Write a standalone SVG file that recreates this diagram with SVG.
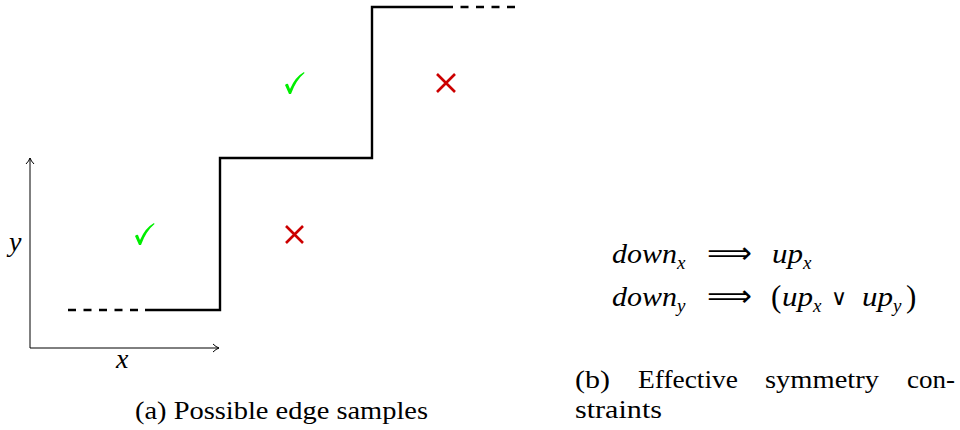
<svg xmlns="http://www.w3.org/2000/svg" width="960" height="430" viewBox="0 0 960 430">
<defs>
<marker id="ah" markerWidth="10" markerHeight="10" refX="8" refY="5" orient="auto" markerUnits="userSpaceOnUse">
<path d="M2,1 Q5,4 8,5 Q5,6 2,9" fill="none" stroke="#000" stroke-width="1"/>
</marker>
</defs>
<g id="axes" stroke="#000" stroke-width="1" fill="none">
<line x1="30" y1="348" x2="30" y2="158" marker-end="url(#ah)"/>
<line x1="30" y1="348" x2="219" y2="348" marker-end="url(#ah)"/>
</g>
<text x="9" y="251" font-family="Times New Roman, Liberation Serif, serif" font-style="italic" font-size="28">y</text>
<text x="116" y="368" font-family="Times New Roman, Liberation Serif, serif" font-style="italic" font-size="28">x</text>
<g id="staircase" stroke="#000" stroke-width="2.4" fill="none">
<line x1="68" y1="310" x2="145" y2="310" stroke-dasharray="8 7.5"/>
<path d="M145,310 H220 V158 H372 V7 H445"/>
<line x1="445" y1="7" x2="522" y2="7" stroke-dasharray="8 7.5"/>
</g>
<g id="marks">
<path fill="#00ee00" transform="translate(144,235)" d="M-9,1 Q-7,-1 -6,0 L-4,5 Q1,-7 10,-12 L10.5,-11 Q2,-4 -3,10 L-5,10 Z"/>
<path fill="#00ee00" transform="translate(294,84)" d="M-9,1 Q-7,-1 -6,0 L-4,5 Q1,-7 10,-12 L10.5,-11 Q2,-4 -3,10 L-5,10 Z"/>
<path stroke="#cc0000" stroke-width="2.6" fill="none" d="M286,226 L303,243 M303,226 L286,243"/>
<path stroke="#cc0000" stroke-width="2.6" fill="none" d="M437,74 L455,92 M455,74 L437,92"/>
</g>
<text x="135" y="419" font-family="Times New Roman, Liberation Serif, serif" font-size="26" textLength="293" lengthAdjust="spacingAndGlyphs">(a) Possible edge samples</text>
<text x="612" y="263" font-family="Times New Roman, Liberation Serif, serif" font-style="italic" font-size="27" textLength="65" lengthAdjust="spacingAndGlyphs">down</text>
<text x="677" y="269" font-family="Times New Roman, Liberation Serif, serif" font-style="italic" font-size="19">x</text>
<text x="707" y="263" font-family="DejaVu Sans" font-size="30" textLength="45" lengthAdjust="spacingAndGlyphs">⟹</text>
<text x="772" y="263" font-family="Times New Roman, Liberation Serif, serif" font-style="italic" font-size="27" textLength="31" lengthAdjust="spacingAndGlyphs">up</text>
<text x="803" y="269" font-family="Times New Roman, Liberation Serif, serif" font-style="italic" font-size="19">x</text>
<text x="612" y="306" font-family="Times New Roman, Liberation Serif, serif" font-style="italic" font-size="27" textLength="65" lengthAdjust="spacingAndGlyphs">down</text>
<text x="677" y="312" font-family="Times New Roman, Liberation Serif, serif" font-style="italic" font-size="19">y</text>
<text x="707" y="306" font-family="DejaVu Sans" font-size="30" textLength="45" lengthAdjust="spacingAndGlyphs">⟹</text>
<text x="771" y="307" font-family="Times New Roman, Liberation Serif, serif" font-size="31">(</text>
<text x="782" y="306" font-family="Times New Roman, Liberation Serif, serif" font-style="italic" font-size="27" textLength="31" lengthAdjust="spacingAndGlyphs">up</text>
<text x="813" y="312" font-family="Times New Roman, Liberation Serif, serif" font-style="italic" font-size="19">x</text>
<text x="831" y="305" font-family="DejaVu Sans" font-size="22">∨</text>
<text x="862" y="306" font-family="Times New Roman, Liberation Serif, serif" font-style="italic" font-size="27" textLength="31" lengthAdjust="spacingAndGlyphs">up</text>
<text x="893" y="312" font-family="Times New Roman, Liberation Serif, serif" font-style="italic" font-size="19">y</text>
<text x="906" y="307" font-family="Times New Roman, Liberation Serif, serif" font-size="31">)</text>
<text x="575" y="388" font-family="Times New Roman, Liberation Serif, serif" font-size="26" textLength="35" lengthAdjust="spacingAndGlyphs">(b)</text>
<text x="638" y="388" font-family="Times New Roman, Liberation Serif, serif" font-size="26" textLength="100" lengthAdjust="spacingAndGlyphs">Effective</text>
<text x="765" y="388" font-family="Times New Roman, Liberation Serif, serif" font-size="26" textLength="114" lengthAdjust="spacingAndGlyphs">symmetry</text>
<text x="907" y="388" font-family="Times New Roman, Liberation Serif, serif" font-size="26" textLength="48" lengthAdjust="spacingAndGlyphs">con-</text>
<text x="575" y="418" font-family="Times New Roman, Liberation Serif, serif" font-size="26" textLength="87" lengthAdjust="spacingAndGlyphs">straints</text>
</svg>
